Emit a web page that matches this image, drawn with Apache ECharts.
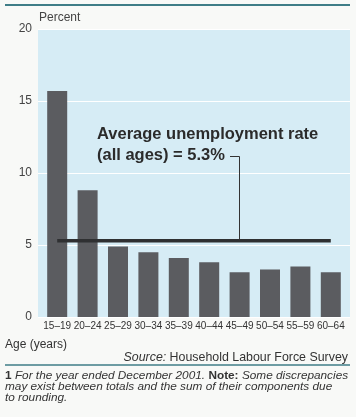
<!DOCTYPE html>
<html><head><meta charset="utf-8">
<script src="https://cdn.jsdelivr.net/npm/echarts@6/dist/echarts.min.js"></script>
<style>html,body{margin:0;padding:0;background:#f8f9f7;}#c{width:356px;height:417px;}</style>
</head><body><div id="c"></div>
<script>
const categories = ['15–19','20–24','25–29','30–34','35–39','40–44','45–49','50–54','55–59','60–64'];
const rates = [15.7, 8.8, 4.9, 4.5, 4.1, 3.8, 3.1, 3.3, 3.5, 3.1];
const averageRate = 5.3;
const yTicks = [0, 5, 10, 15, 20];

const chart = echarts.init(document.getElementById('c'), null, {renderer: 'canvas'});
const font = 'Liberation Sans, Arial, sans-serif';
const option = {
  backgroundColor: '#f8f9f7',
  animation: false,
  grid: [
    {left: 38, right: 6, top: 29, bottom: 100, show: true, backgroundColor: '#d6ecf5', borderWidth: 0},
    {left: 42, right: 10, top: 29, bottom: 100}
  ],
  xAxis: [
    {gridIndex: 0, type: 'value', show: false, min: 0, max: 1},
    {gridIndex: 1, type: 'category', data: categories,
     axisLine: {show: false}, axisTick: {show: false},
     axisLabel: {interval: 0, color: '#333', fontSize: 10, fontFamily: font, margin: 4}}
  ],
  yAxis: [
    {gridIndex: 0, type: 'value', min: yTicks[0], max: yTicks[yTicks.length-1], interval: 5,
     axisLine: {show: false}, axisTick: {show: false},
     axisLabel: {color: '#444', fontSize: 12, fontFamily: font, margin: 6},
     splitLine: {show: true, lineStyle: {color: '#ffffff', width: 1}}},
    {gridIndex: 1, type: 'value', min: 0, max: 20, show: false, splitLine: {show: false}}
  ],
  series: [
    {type: 'bar', xAxisIndex: 1, yAxisIndex: 1, data: rates, barWidth: 20,
     itemStyle: {color: '#5b5c60'}},
    {type: 'line', xAxisIndex: 1, yAxisIndex: 1, data: categories.map(() => averageRate),
     symbol: 'none', lineStyle: {color: '#2f3032', width: 3.5}, z: 5}
  ],
  graphic: [
    {type: 'line', shape: {x1: 5, y1: 5, x2: 350, y2: 5}, style: {stroke: '#3f7d87', lineWidth: 2}},
    {type: 'text', left: 39, top: 12, style: {text: 'Percent', fill: '#444', font: '12px ' + font}},
    {type: 'text', left: 5, top: 339, style: {text: 'Age (years)', fill: '#333', font: '12px ' + font}},
    {type: 'text', right: 8, top: 352, style: {
      text: '{i|Source:} {n|Household Labour Force Survey}', fill: '#333',
      rich: {i: {fontStyle: 'italic', fontSize: 12.4, fontFamily: font, fill: '#333'},
             n: {fontSize: 12.4, fontFamily: font, fill: '#333'}}}},
    {type: 'line', shape: {x1: 5, y1: 365, x2: 350, y2: 365}, style: {stroke: '#3f7d87', lineWidth: 1.5}},
    {type: 'text', left: 5, top: 370, style: {
      text: '{b|1} {i|For the year ended December 2001.} {b|Note:} {i|Some discrepancies}\n{i|may exist between totals and the sum of their components due}\n{i|to rounding.}',
      fill: '#333', lineHeight: 11,
      rich: {
        b: {fontWeight: 'bold', fontSize: 11.8, fontFamily: font, fill: '#333', lineHeight: 11},
        i: {fontStyle: 'italic', fontSize: 11.8, fontFamily: font, fill: '#333', lineHeight: 11}
      }}},
    {type: 'text', left: 97, top: 124, style: {
      text: 'Average unemployment rate\n(all ages) = 5.3%', fill: '#2b2b2b',
      font: 'bold 16.5px ' + font, lineHeight: 21}}
  ]
};
chart.setOption(option);
const p = chart.convertToPixel({xAxisIndex: 1, yAxisIndex: 1}, [categories[6], averageRate]);
chart.setOption({graphic: option.graphic.concat([
  {type: 'polyline', shape: {points: [[230, 156.5], [Math.round(p[0]) - 0.5, 156.5], [Math.round(p[0]) - 0.5, p[1]]]},
   style: {stroke: '#333', lineWidth: 1, fill: null}, z: 10}
])});
</script></body></html>
